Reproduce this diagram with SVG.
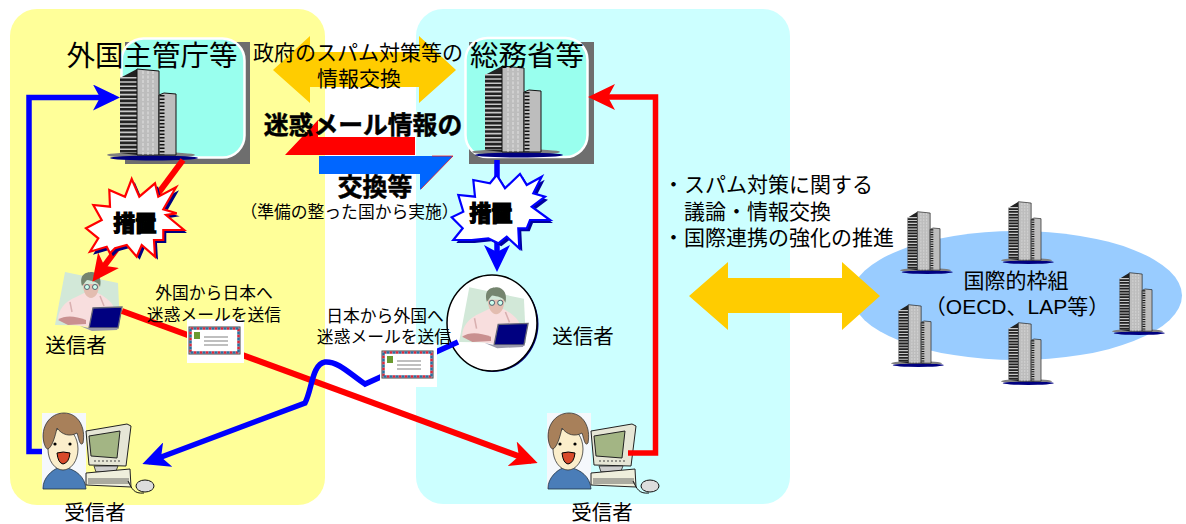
<svg xmlns="http://www.w3.org/2000/svg" xmlns:xlink="http://www.w3.org/1999/xlink" width="1186" height="524" viewBox="0 0 1186 524">
<style>
text{font-family:"Liberation Sans","Noto Sans CJK JP",sans-serif;fill:#000;text-anchor:middle}
.t28{font-size:28.500px}.t21{font-size:21px}.t20{font-size:20.500px}.t17{font-size:16.800px}
.b25{font-size:24.800px;font-weight:700;stroke:#000;stroke-width:.5}
.b21{font-size:21.500px;font-weight:700;stroke:#000;stroke-width:1.500}
.l{text-anchor:start}
.c{fill:none;stroke-width:5.500;stroke-linejoin:miter}
.w6{stroke-width:6}
.r{stroke:#f00}.bl{stroke:#00f}
.orange{fill:#fc0}
</style>
<defs>
<marker id="hr" markerUnits="userSpaceOnUse" markerWidth="27" markerHeight="26" viewBox="0 0 27 26" refX="21" refY="13" orient="auto"><path d="M0,0L27,13L0,26L7,13Z" fill="#f00"/></marker>
<marker id="hb" markerUnits="userSpaceOnUse" markerWidth="27" markerHeight="26" viewBox="0 0 27 26" refX="21" refY="13" orient="auto"><path d="M0,0L27,13L0,26L7,13Z" fill="#00f"/></marker>
<g id="bld">
<ellipse cx="44" cy="87" rx="44" ry="3" fill="#808080"/>
<ellipse cx="47" cy="90" rx="44" ry="2.500" fill="#000080"/>
<polygon points="13,10 30,1 30,87 13,85" fill="#222"/>
<path d="M21.500,9V85" stroke="#c8c8c8" stroke-width="17" stroke-dasharray="1.600 2.600" fill="none"/>
<polygon points="30,1 52,3 52,87 30,87" fill="#bdbdbd" stroke="#111" stroke-width="1"/>
<path d="M36,3V87M41,3V87M46,3V87" stroke="#eee" stroke-width=".8" stroke-dasharray="3 1.500"/>
<polygon points="52,27 57,25 69,26 69,87 52,87" fill="#bdbdbd" stroke="#111" stroke-width="1"/>
<path d="M55,27V87" stroke="#111" stroke-width="5" stroke-dasharray="1.500 2"/>
</g>
<g id="env">
<rect x="0" y="0" width="51" height="27" fill="#fff" stroke="#444" stroke-width="1"/>
<rect x="1.500" y="1.500" width="48" height="24" fill="none" stroke="#d8283c" stroke-width="2.500" stroke-dasharray="3 3"/>
<rect x="1.500" y="1.500" width="48" height="24" fill="none" stroke="#2a6f9f" stroke-width="2.500" stroke-dasharray="3 3" stroke-dashoffset="3"/>
<rect x="5" y="5" width="6" height="7" fill="#6a9a30"/>
<path d="M15,10H39M15,14H39M15,18H39" stroke="#aaa" stroke-width="1.300"/>
</g>
<g id="snd">
<polygon points="45,12 98,23 100,66 35,65" fill="#d2e8d8"/>
<path d="M38,60C38,50 44,42 56,37L64,33L78,33C88,38 93,44 94,48L73,50L70,67L48,64Z" fill="#f8dede"/>
<path d="M38,60C45,55 55,56 66,60L66,64L48,65Z" fill="#c99090"/>
<path d="M50,42L52,52M80,36L84,46" stroke="#d9b0b0" stroke-width="1.500" fill="none"/>
<path d="M63,24C63,33 67,38 71,38C75,38 79,33 79,24Z" fill="#e3bdb0"/>
<path d="M62,26C59,15 65,12 72,12C79,13 82,19 80,27C78,21 72,21 67,20C65,22 64,24 62,26Z" fill="#75856f"/>
<circle cx="67" cy="27" r="2.500" fill="#cfe" stroke="#345" stroke-width=".8"/><circle cx="75" cy="27" r="2.500" fill="#cfe" stroke="#345" stroke-width=".8"/>
<polygon points="73,48 102,47 98,68 69,68" fill="#000080" stroke="#667" stroke-width="1.300"/>
<polygon points="60,66 69,68 98,68 97,70 72,71" fill="#99a"/>
</g>
<g id="rcv">
<rect width="44" height="76" fill="#f5f8fc"/>
<path d="M1,75C1,65 10,57 16,55H25C33,57 43,63 44,76H1Z" fill="#4a7db8" stroke="#234" stroke-width=".8"/>
<ellipse cx="21" cy="36" rx="15" ry="21" fill="#fbeecb" stroke="#333" stroke-width=".8"/>
<path d="M2,30C-2,14 8,0 22,0C36,0 44,14 41,30C38,34 37,26 35,20C28,24 20,22 15,15C13,24 10,34 6,36C4,36 3,33 2,30Z" fill="#a8805a" stroke="#333" stroke-width=".8"/>
<circle cx="13" cy="31" r="1.600" fill="#000"/><circle cx="28" cy="31" r="1.600" fill="#000"/>
<path d="M15,40Q21,38 28,40Q27,50 21,51Q16,50 15,40Z" fill="#d84a2a" stroke="#000" stroke-width="1"/>
<polygon points="44,18 85,11 89,13 84,53 47,52" fill="#e6e6d6" stroke="#222" stroke-width="1"/>
<polygon points="47,23 78,18 75,45 49,43" fill="#a3b584" stroke="#222" stroke-width="1"/>
<path d="M52,48H78" stroke="#444" stroke-dasharray="2 2"/>
<polygon points="52,53 76,53 74,58 54,59" fill="#ccc" stroke="#222" stroke-width=".8"/>
<polygon points="44,60 88,56 89,74 44,72" fill="#efefdc" stroke="#222" stroke-width="1"/>
<path d="M46,66H87M46,68H87M46,70H88" stroke="#444" stroke-width=".8"/>
<path d="M86,68C90,76 92,81 102,80" fill="none" stroke="#111"/>
<ellipse cx="103" cy="73" rx="9" ry="6" fill="#ddd" stroke="#111"/>
</g>
<polygon id="bRed" points="131.700,179 139.300,196.700 155,183.300 158.300,196.700 176,187.300 163.300,209.300 176.700,213.300 166,215 184,230 163.300,230 163.300,240 154,240 155,256.700 141.700,245 136.700,256.700 126.700,245 115,248.300 110,253.300 106.700,246.700 90,251.700 98.300,238.300 86,228.300 101.700,220 93.300,205 110,206.700 109.300,190 125,196.700"/>
<polygon id="bBlue" points="496.700,175 505,188.300 520,174 526.700,185 541.700,176.700 533.300,193.300 545,196.700 531.700,206.700 550,220 530,220 526.700,228.300 518.300,228.300 519.300,248.300 506.700,236.700 498.300,243.300 488.300,238.300 471.700,240 453.300,240 462.700,228.300 451.700,217.300 463.300,211.700 458.300,195 475,196.700 473.300,180 490,183.300"/>
</defs>

<rect x="10" y="9" width="315" height="496" rx="27" fill="#ff9"/>
<rect x="416" y="9" width="374" height="495" rx="27" fill="#cff"/>
<ellipse cx="1017" cy="295.500" rx="165" ry="64.500" fill="#9cf"/>

<g id="node-foreign-agency">
<rect x="125" y="42" width="125" height="122" fill="#6e6e6e"/>
<rect x="121.500" y="38.500" width="123" height="119" rx="22" fill="#9fe" stroke="#fff" stroke-width="2.500"/>
<use href="#bld" x="107" y="68"/>
</g>
<g id="node-mic">
<rect x="469" y="42" width="125" height="122" fill="#6e6e6e"/>
<rect x="465.500" y="38" width="122" height="119" rx="22" fill="#9fe" stroke="#fff" stroke-width="2.500"/>
<use href="#bld" x="472" y="65"/>
</g>
<g id="node-framework">
<use href="#bld" transform="translate(900,211) scale(.58,.68)"/>
<use href="#bld" transform="translate(1001,201) scale(.58,.68)"/>
<use href="#bld" transform="translate(1112,272) scale(.58,.68)"/>
<use href="#bld" transform="translate(891,304) scale(.58,.68)"/>
<use href="#bld" transform="translate(1001,322) scale(.58,.68)"/>
</g>
<g id="node-sender-left"><use href="#snd" x="20" y="260"/></g>
<g id="node-sender-right">
<ellipse cx="493.500" cy="324" rx="45" ry="48" fill="#000080"/>
<ellipse cx="492" cy="323" rx="45" ry="48" fill="#fff" stroke="#000" stroke-width="1.500"/>
<use href="#snd" transform="translate(423,275) scale(1.03)"/>
</g>
<g id="node-receiver-left"><use href="#rcv" x="42" y="413"/></g>
<g id="node-receiver-right"><use href="#rcv" x="547" y="413"/></g>

<g id="block-arrows">
<polygon class="orange" points="273,70 310,36 310,52 419,52 419,36 456,70 419,103 419,87 310,87 310,103"/>
<polygon points="285,155 318,120 318,137 415,137 415,155" fill="#f00"/>
<polygon points="319,156 453,156 420,190 420,174 319,174" fill="#06f"/>
<polyline points="432,156 453,156 421,189" fill="none" stroke="#f00" stroke-width=".7"/>
<polygon class="orange" points="689,296 728,262 728,278 842,278 842,262 880,296 842,330 842,313 728,313 728,330"/>
</g>

<g id="connectors">
<path class="c bl" d="M42,451.500H29V97.500H114" marker-end="url(#hb)"/>
<path class="c r" d="M628,453H655.500V97H594" marker-end="url(#hr)"/>
<path class="c w6 r" d="M183,160L96,277" marker-end="url(#hr)"/>
<path class="c bl" d="M497,160V266" marker-end="url(#hb)"/>
<path class="c w6 r" d="M122,311L532,461" marker-end="url(#hr)"/>
<path class="c bl" d="M458,342L365,384C350,374 338,361 325,362C312,364 312,390 305,403L148,462" marker-end="url(#hb)"/>
</g>

<g id="node-burst-left">
<use href="#bRed" x="3" y="3" fill="#000080"/>
<use href="#bRed" fill="#fff" stroke="#f00" stroke-width="2.200"/>
<text class="b21" x="135" y="231">措置</text>
</g>
<g id="node-burst-right">
<use href="#bBlue" x="3" y="3" fill="#0000a0"/>
<use href="#bBlue" fill="#fff" stroke="#00f" stroke-width="2.200"/>
<text class="b21" x="491" y="221">措置</text>
</g>
<g id="node-mail-left">
<rect x="187" y="319" width="57" height="44" fill="#fff"/>
<use href="#env" x="189" y="327"/>
</g>
<g id="node-mail-right">
<rect x="380" y="343" width="57" height="44" fill="#fff"/>
<use href="#env" x="382" y="351"/>
</g>

<g id="labels">
<text class="t28" x="152" y="66">外国主管庁等</text>
<text class="t28" x="527" y="66">総務省等</text>
<text class="t21" x="358" y="60">政府のスパム対策等の</text>
<text class="t21" x="359" y="86">情報交換</text>
<text class="b25" x="363" y="134">迷惑メール情報の</text>
<text class="b25" x="375" y="196">交換等</text>
<text class="t17" x="349.500" y="218">（準備の整った国から実施）</text>
<text class="t20" x="76" y="353">送信者</text>
<text class="t20" x="583" y="344">送信者</text>
<text class="t20" x="95" y="520">受信者</text>
<text class="t20" x="602" y="520">受信者</text>
<text class="t17" x="214" y="299">外国から日本へ</text>
<text class="t17" x="214" y="321">迷惑メールを送信</text>
<text class="t17" x="385" y="322">日本から外国へ</text>
<text class="t17" x="384" y="343">迷惑メールを送信</text>
<text class="t21 l" x="663" y="192">・スパム対策に関する</text>
<text class="t21 l" x="684" y="219">議論・情報交換</text>
<text class="t21 l" x="663" y="245">・国際連携の強化の推進</text>
<text class="t21" x="1016" y="288">国際的枠組</text>
<text class="t21" x="1017" y="314">（OECD、LAP等）</text>
</g>
</svg>
